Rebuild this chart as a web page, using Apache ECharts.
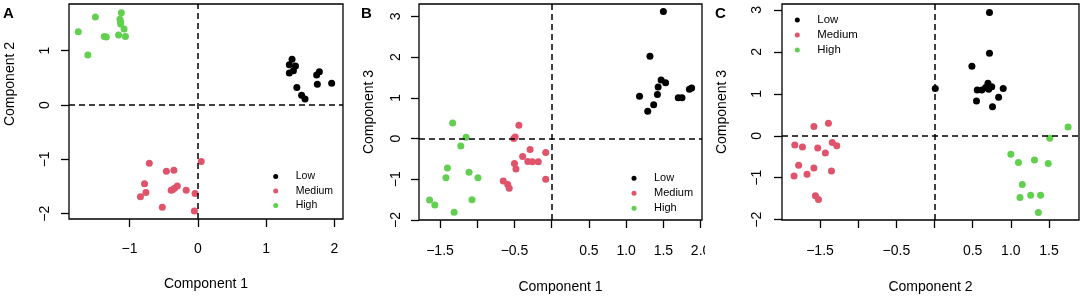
<!DOCTYPE html>
<html>
<head>
<meta charset="utf-8">
<script src="https://cdn.jsdelivr.net/npm/echarts@6/dist/echarts.min.js"></script>
<style>
html, body { margin: 0; padding: 0; background: #fff; }
#main { width: 1084px; height: 299px; }
</style>
</head>
<body>
<div id="main"></div>
<script>
var groups = ['Low', 'Medium', 'High'];
var colors = ['#000000', '#DF536B', '#61D04F'];

// A: component 1 vs component 2
var aLow = [[1.38, 0.84], [1.34, 0.74], [1.43, 0.72], [1.40, 0.63], [1.34, 0.59], [1.78, 0.61],
    [1.74, 0.55], [1.75, 0.38], [1.96, 0.40], [1.45, 0.32], [1.52, 0.18], [1.57, 0.11]];
var aMedium = [[-0.71, -1.07], [-0.46, -1.22], [-0.35, -1.20], [0.05, -1.04], [-0.78, -1.45],
    [-0.76, -1.61], [-0.84, -1.69], [-0.39, -1.57], [-0.37, -1.56], [-0.34, -1.53], [-0.30, -1.49],
    [-0.17, -1.57], [-0.04, -1.63], [-0.52, -1.88], [-0.05, -1.95]];
var aHigh = [[-1.12, 1.70], [-1.14, 1.58], [-1.13, 1.53], [-1.13, 1.49], [-1.08, 1.40], [-1.06, 1.26],
    [-1.16, 1.29], [-1.37, 1.26], [-1.34, 1.25], [-1.50, 1.62], [-1.75, 1.35], [-1.61, 0.92]];

// B: component 1 vs component 3
var bLow = [[1.50, 3.12], [1.32, 2.02], [1.18, 1.04], [1.29, 0.67], [1.37, 0.83], [1.42, 1.08],
    [1.43, 1.27], [1.47, 1.44], [1.53, 1.37], [1.70, 1.00], [1.75, 1.00], [1.85, 1.21], [1.88, 1.24]];
var bMedium = [[-0.44, 0.33], [-0.49, 0.04], [-0.51, 0.00], [-0.29, -0.27], [-0.39, -0.44],
    [-0.08, -0.34], [-0.32, -0.56], [-0.26, -0.57], [-0.18, -0.57], [-0.50, -0.61], [-0.48, -0.75],
    [-0.65, -1.04], [-0.59, -1.13], [-0.57, -1.22], [-0.08, -1.00]];
var bHigh = [[-1.33, 0.38], [-1.15, 0.03], [-1.22, -0.18], [-1.40, -0.72], [-1.42, -0.96],
    [-1.11, -0.83], [-0.99, -0.96], [-1.07, -1.50], [-1.64, -1.51], [-1.57, -1.63], [-1.31, -1.81]];

// C: component 2 vs component 3
var cLow = [[0.72, 2.94], [0.72, 1.97], [0.49, 1.66], [0.01, 1.13], [0.56, 1.09], [0.62, 1.09],
    [0.70, 1.25], [0.71, 1.11], [0.75, 1.17], [0.67, 1.15], [0.90, 1.13], [0.55, 0.83],
    [0.84, 0.92], [0.76, 0.69]];
var cMedium = [[-1.58, 0.22], [-1.39, 0.30], [-1.83, -0.22], [-1.73, -0.27], [-1.53, -0.29],
    [-1.34, -0.16], [-1.28, -0.24], [-1.43, -0.41], [-1.78, -0.70], [-1.84, -0.96], [-1.67, -0.92],
    [-1.58, -0.77], [-1.35, -0.84], [-1.56, -1.43], [-1.52, -1.52]];
var cHigh = [[1.75, 0.21], [1.51, -0.06], [1.00, -0.44], [1.10, -0.64], [1.31, -0.58], [1.49, -0.66],
    [1.15, -1.16], [1.12, -1.47], [1.26, -1.42], [1.39, -1.42], [1.36, -1.83]];

// ticks / labels
var aTicksX = [-1, 0, 1, 2];
var aTicksY = [-2, -1, 0, 1];
var bTicksX = [-1.5, -1, -0.5, 0, 0.5, 1, 1.5, 2];
var bLabelsX = [-1.5, -0.5, 0.5, 1, 1.5, 2];
var bTicksY = [-2, -1, 0, 1, 2, 3];
var cTicksX = [-1.5, -1, -0.5, 0, 0.5, 1, 1.5];
var cLabelsX = [-1.5, -0.5, 0.5, 1, 1.5];
var cTicksY = [-2, -1, 0, 1, 2, 3];

var font = "'Liberation Sans', Arial, sans-serif";

function fmt(d) {
    return function (v) {
        return (v < 0 ? '\u2212' : '') + Math.abs(v).toFixed(d);
    };
}

function axis(gi, min, max, ticks, labels, digits, margin, name, gap, namePad, isY) {
    return {
        type: 'value',
        gridIndex: gi,
        min: min,
        max: max,
        name: name,
        nameLocation: 'middle',
        nameGap: gap,
        nameRotate: isY ? 90 : 0,
        nameTextStyle: { fontSize: 14, color: '#000', fontFamily: font, padding: namePad },
        axisLine: { show: false, onZero: false },
        axisTick: { show: true, inside: false, length: 8, customValues: ticks,
            lineStyle: { color: '#000', width: 1.3 } },
        axisLabel: { show: true, customValues: labels, formatter: fmt(digits), margin: margin,
            rotate: isY ? 90 : 0, fontSize: 14, color: '#000', fontFamily: font },
        splitLine: { show: false }
    };
}

var dashed = {
    silent: true,
    symbol: ['none', 'none'],
    label: { show: false },
    lineStyle: { color: '#000', type: [6, 4], width: 1.5 },
    data: [{ xAxis: 0 }, { yAxis: 0 }]
};

var panelData = [[aLow, aMedium, aHigh], [bLow, bMedium, bHigh], [cLow, cMedium, cHigh]];
var series = [];
for (var p = 0; p < 3; p++) {
    for (var g = 0; g < 3; g++) {
        var s = {
            type: 'scatter',
            name: groups[g],
            xAxisIndex: p,
            yAxisIndex: p,
            data: panelData[p][g],
            symbol: 'circle',
            symbolSize: 7,
            itemStyle: { color: colors[g], opacity: 1 },
            silent: true
        };
        if (g == 0) s.markLine = dashed;
        series.push(s);
    }
}

function legend(left, top, size, gap) {
    return {
        orient: 'vertical',
        left: left,
        top: top,
        padding: 0,
        itemWidth: 30,
        itemHeight: 5,
        itemGap: gap,
        selectedMode: false,
        data: groups.map(function (g) { return { name: g, icon: 'circle' }; }),
        textStyle: { fontSize: size, lineHeight: 12, color: '#000', fontFamily: font }
    };
}

function letter(t, left) {
    return { text: t, left: left, top: 6, padding: 0,
        textStyle: { fontSize: 15, fontWeight: 'bold', color: '#000', fontFamily: font } };
}

var gridStyle = { show: true, borderColor: '#000', borderWidth: 1.3, backgroundColor: 'transparent' };

var option = {
    animation: false,
    backgroundColor: '#fff',
    title: [letter('A', 3), letter('B', 361), letter('C', 715)],
    legend: [legend(273.2, 170.4, 10.5, 2.5), legend(631.5, 172.3, 11, 3), legend(794.8, 14, 11.4, 3)],
    grid: [
        Object.assign({ left: 69, right: 741, top: 4, bottom: 80 }, gridStyle),
        Object.assign({ left: 419, right: 382, top: 4, bottom: 78 }, gridStyle),
        Object.assign({ left: 782, right: 5, top: 4, bottom: 77.5 }, gridStyle)
    ],
    xAxis: [
        axis(0, -1.886, 2.126, aTicksX, aTicksX, 0, 23, 'Component 1', 58, 0, false),
        axis(1, -1.782, 2.019, bTicksX, bLabelsX, 1, 24, 'Component 1', 60, 0, false),
        axis(2, -1.998, 1.893, cTicksX, cLabelsX, 1, 24, 'Component 2', 60, 0, false)
    ],
    yAxis: [
        axis(0, -2.098, 1.859, aTicksY, aTicksY, 0, 17, 'Component 2', 52, [0, 0, 0, 55], true),
        axis(1, -2.0, 3.306, bTicksY, bTicksY, 0, 16, 'Component 3', 43, 0, true),
        axis(2, -2.008, 3.142, cTicksY, cTicksY, 0, 18, 'Component 3', 53, 0, true)
    ],
    graphic: [
        // panel C overlaps the end of B's last tick label
        { type: 'rect', z: 100, shape: { x: 705, y: 238, width: 40, height: 26 }, style: { fill: '#fff' } }
    ],
    series: series
};

var chart = echarts.init(document.getElementById('main'), null, { renderer: 'canvas' });
chart.setOption(option);
</script>
</body>
</html>
